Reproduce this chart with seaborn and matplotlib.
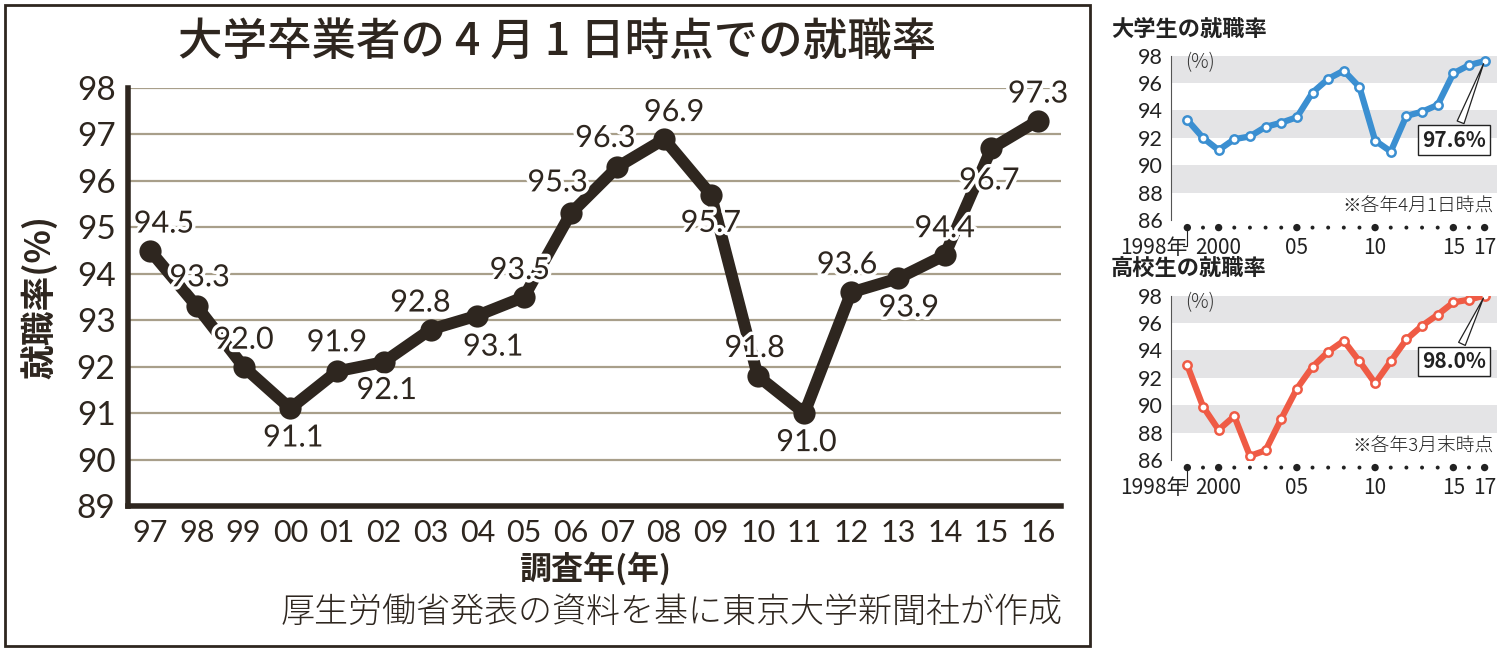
import pandas as pd
import seaborn as sns
import matplotlib.pyplot as plt
import matplotlib.patheffects as pe
from matplotlib.patches import Rectangle

# データ
years_main = ["97", "98", "99", "00", "01", "02", "03", "04", "05", "06",
              "07", "08", "09", "10", "11", "12", "13", "14", "15", "16"]
rate_main = [94.5, 93.3, 92.0, 91.1, 91.9, 92.1, 92.8, 93.1, 93.5, 95.3,
             96.3, 96.9, 95.7, 91.8, 91.0, 93.6, 93.9, 94.4, 96.7, 97.3]

years_small = list(range(1998, 2018))
rate_univ = [93.3, 92.0, 91.1, 91.9, 92.1, 92.8, 93.1, 93.5, 95.3, 96.3,
             96.9, 95.7, 91.8, 91.0, 93.6, 93.9, 94.4, 96.7, 97.3, 97.6]
rate_high = [92.9, 89.9, 88.2, 89.2, 86.3, 86.7, 89.0, 91.2, 92.8, 93.9,
             94.7, 93.2, 91.6, 93.2, 94.8, 95.8, 96.6, 97.5, 97.7, 98.0]
small_ticks = [1998, 2000, 2005, 2010, 2015, 2017]
small_tick_labels = ["1998年", "2000", "05", "10", "15", "17"]

# ラベルの位置 (ピクセル)
label_offsets = [(14, 27), (3, 29), (0, 27), (3, -29), (0, 29), (3, -28),
                 (-10, 27), (16, -31), (-4, 27), (-13, 31), (-12, 29), (10, 27),
                 (0, -28), (-3, 28), (2, -29), (-4, 28), (11, -29), (0, 27),
                 (-2, -32), (0, 27)]

dark = "#2e261f"
grid_col = "#a89f8a"

sns.set_theme(style="white")
plt.rcParams['font.family'] = ['Noto Sans CJK JP', 'DejaVu Sans']
num_font = ['Lato', 'Noto Sans CJK JP']

fig = plt.figure(figsize=(15.03, 6.5), dpi=100)

# ---- メインのグラフ ----
ax = fig.add_axes([0.0852, 0.2215, 0.6208, 0.6431])
df = pd.DataFrame({"pos": range(len(years_main)), "rate": rate_main})
sns.lineplot(data=df, x="pos", y="rate", ax=ax, color=dark, lw=8.5,
             marker="o", markersize=16, markeredgewidth=0, zorder=3)
ax.set_xlim(-0.47, 19.49)
ax.set_ylim(89, 98)
ax.set_yticks(range(89, 99))
ax.set_xticks(range(len(years_main)))
ax.set_xticklabels(years_main, family=num_font, fontsize=22, color=dark)
ax.set_yticklabels([str(v) for v in range(89, 99)], family=num_font,
                   fontsize=24, color=dark)
ax.yaxis.grid(True, color=grid_col, lw=1.6)
ax.tick_params(axis="x", direction="in", length=7, width=3.5, color=dark, pad=9)
ax.tick_params(axis="y", length=0, pad=9)
for s in ["top", "right"]:
    ax.spines[s].set_visible(False)
for s in ["left", "bottom"]:
    ax.spines[s].set_color(dark)
    ax.spines[s].set_linewidth(4)
    ax.spines[s].set_zorder(4)
ax.set_xlabel("調査年(年)", fontsize=23, weight="bold", color=dark, labelpad=4)
ax.set_ylabel("就職率(%)", fontsize=25, weight="bold", color=dark, labelpad=14)

for i, (v, off) in enumerate(zip(rate_main, label_offsets)):
    ax.annotate(f"{v:.1f}", (i, v), xytext=off, textcoords="offset pixels",
                ha="center", va="center", fontsize=22, family=num_font,
                color=dark, zorder=5,
                path_effects=[pe.withStroke(linewidth=5, foreground="white")])

fig.text(0.371, 0.935, "大学卒業者の 4 月 1 日時点での就職率", ha="center",
         va="center", fontsize=32, color=dark, weight="medium")
fig.text(0.707, 0.058, "厚生労働省発表の資料を基に東京大学新聞社が作成",
         ha="right", va="center", fontsize=24.5, color=dark, weight="light")
fig.patches.append(Rectangle((0.0033, 0.006), 0.7219, 0.986, fill=False,
                             ec=dark, lw=2, transform=fig.transFigure))


# ---- 右側の小さいグラフ ----
def small_chart(bottom, values, color, title, note):
    a = fig.add_axes([0.779, bottom, 0.217, 0.253])
    d = pd.DataFrame({"year": years_small, "rate": values})
    for lo in range(88, 98, 4):
        a.axhspan(lo, lo + 2, color="#e4e4e6", lw=0, zorder=0)
    sns.lineplot(data=d, x="year", y="rate", ax=a, color=color, lw=4.5,
                 marker="o", markersize=6, markerfacecolor="white",
                 markeredgecolor=color, markeredgewidth=1.8, zorder=3)
    a.set_xlim(1996.945, 2017.79)
    a.set_ylim(86, 98)
    a.set_yticks(range(86, 99, 2))
    a.set_yticklabels([str(v) for v in range(86, 99, 2)], family=num_font,
                      fontsize=15.5, color="#222222")
    a.set_xticks(small_ticks)
    a.set_xticklabels(small_tick_labels, fontsize=15, color="#222222")
    a.get_xticklabels()[0].set_ha("right")
    a.tick_params(axis="x", length=0, pad=12)
    a.tick_params(axis="y", length=0, pad=6)
    for s in ["top", "right", "bottom"]:
        a.spines[s].set_visible(False)
    a.spines["left"].set_color("#555555")
    a.spines["left"].set_linewidth(0.8)
    a.set_xlabel("")
    a.set_ylabel("")
    # 軸の点
    sizes = [28 if y in small_ticks else 8 for y in years_small]
    a.scatter(years_small, [-0.046] * len(years_small), s=sizes, color="#222222",
              transform=a.get_xaxis_transform(), clip_on=False, lw=0)
    a.plot([small_ticks[0], small_ticks[0], small_ticks[0] - 0.25],
           [-0.046, -0.16, -0.16], color="#222222", lw=0.8,
           transform=a.get_xaxis_transform(), clip_on=False)
    a.text(0.09, 0.955, "(%)", transform=a.transAxes, ha="center", va="center",
           fontsize=14, color="#333333", weight="light")
    a.text(0.99, 0.085, note, transform=a.transAxes, ha="right", va="center",
           fontsize=13.5, color="#222222", weight="light")
    a.annotate(f"{values[-1]:.1f}%", (years_small[-1], values[-1]),
               xytext=(-31, -79 if bottom > 0.5 else -66),
               textcoords="offset pixels", ha="center", va="center",
               fontsize=15, weight="bold", color="#222222",
               bbox=dict(boxstyle="square,pad=0.2", fc="white", ec="#222222", lw=1),
               arrowprops=dict(arrowstyle="wedge,tail_width=0.35,shrink_factor=0.5",
                               fc="white", ec="#222222", lw=0.9))
    fig.text(0.739, bottom + 0.253 + 0.041, title, ha="left", va="center",
             fontsize=16, weight="bold", color="#222222")
    return a


small_chart(0.6615, rate_univ, "#3b8fd1", "大学生の就職率", "※各年4月1日時点")
small_chart(0.2923, rate_high, "#ef5b45", "高校生の就職率", "※各年3月末時点")

plt.savefig("out.png", dpi=100)
